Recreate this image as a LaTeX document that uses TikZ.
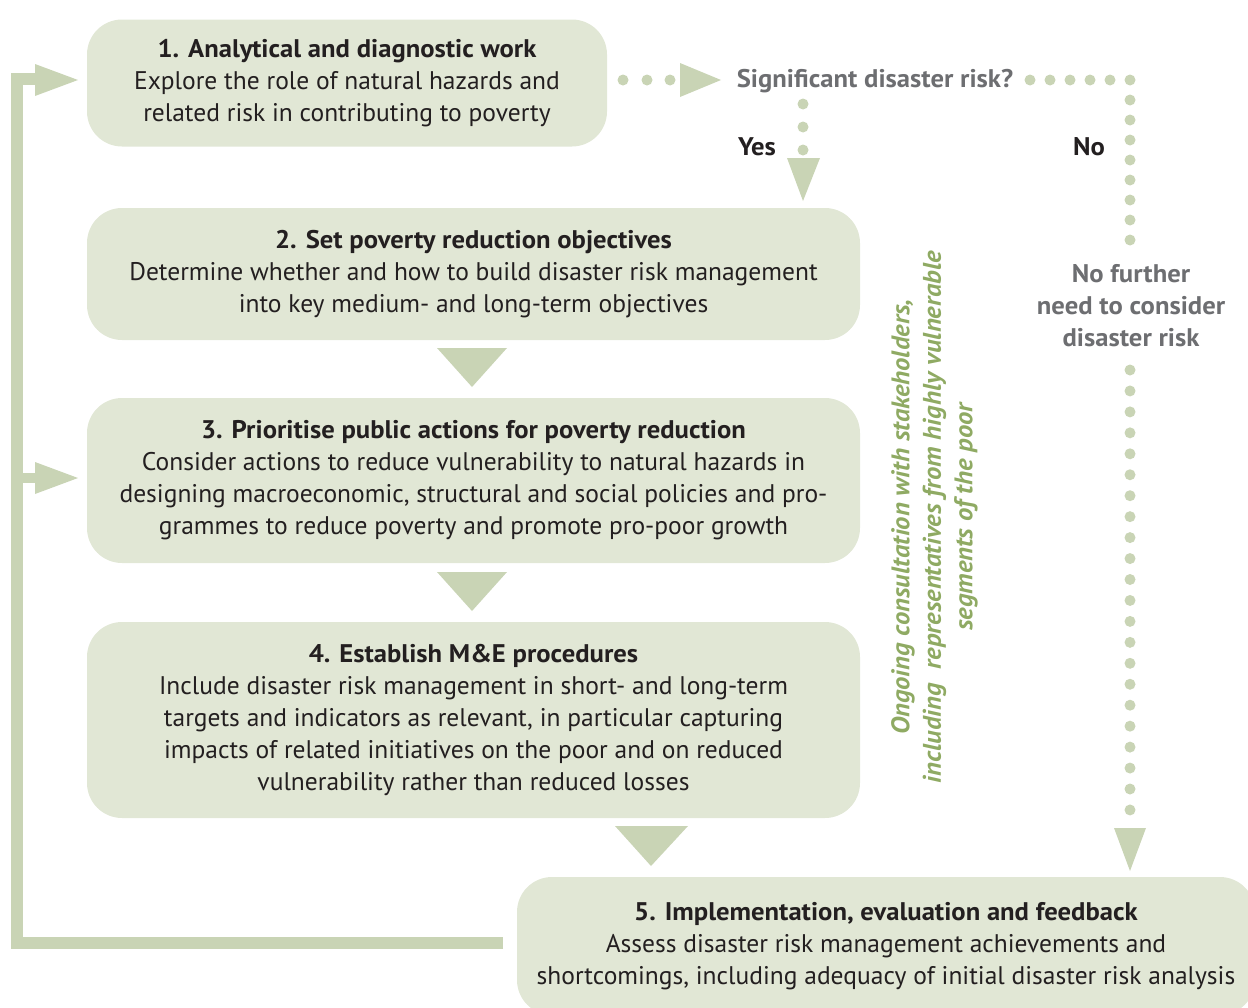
\documentclass[tikz,border=0pt]{standalone}
\usepackage{fontspec}
\setmainfont{PT Sans}[BoldFeatures={FakeStretch=1.045},BoldItalicFeatures={FakeStretch=1.045}]
\definecolor{boxfill}{HTML}{E1E7D5}
\definecolor{arr}{HTML}{C9D4B5}
\definecolor{grn}{HTML}{8FAA63}
\definecolor{gry}{HTML}{6D6E71}
\definecolor{ink}{HTML}{231F20}
\begin{document}
\begin{tikzpicture}[x=1pt,y=-1pt,
  box/.style={fill=boxfill, rounded corners=35pt, align=center, text=ink, inner sep=0pt,
              font=\fontsize{25.5}{32}\selectfont},
  headtri/.style={fill=arr},
  dotmark/.style={fill=arr},
  feed/.style={draw=arr, line width=12pt},
  lbl/.style={font=\fontsize{25.5}{32}\selectfont\bfseries, align=center, inner sep=0pt}]
\useasboundingbox (0,0) rectangle (1248,1007);
\clip (0,0) rectangle (1248,1007);

% boxes
\node[box, minimum width=520pt, minimum height=127pt] (b1) at (347,83)
  {\textbf{1. Analytical and diagnostic work}\\Explore the role of natural hazards and\\related risk in contributing to poverty};
\node[box, minimum width=773pt, minimum height=132pt] (b2) at (473.5,274)
  {\textbf{2. Set poverty reduction objectives}\\Determine whether and how to build disaster risk management\\into key medium- and long-term objectives};
\node[box, minimum width=773pt, minimum height=165pt] (b3) at (473.5,480.5)
  {\textbf{3. Prioritise public actions for poverty reduction}\\Consider actions to reduce vulnerability to natural hazards in\\designing macroeconomic, structural and social policies and pro-\\grammes to reduce poverty and promote pro-poor growth};
\node[box, minimum width=773pt, minimum height=196pt] (b4) at (473.5,720)
  {\textbf{4. Establish M\&E procedures}\\Include disaster risk management in short- and long-term\\targets and indicators as relevant, in particular capturing\\impacts of related initiatives on the poor and on reduced\\vulnerability rather than reduced losses};
\node[box, minimum width=738pt, minimum height=138pt] (b5) at (886,946)
  {\textbf{5. Implementation, evaluation and feedback}\\Assess disaster risk management achievements and\\shortcomings, including adequacy of initial disaster risk analysis};

% down triangles between boxes
\fill[headtri] (437,348) -- (507,348) -- (472,387) -- cycle;
\fill[headtri] (437,572) -- (507,572) -- (472,611) -- cycle;
\fill[headtri] (615,826) -- (688,826) -- (651,866) -- cycle;

% decision
\node[lbl, text=gry] (q) at (875,81) {Significant disaster risk?};
\foreach \x in {623,647,670} \fill[dotmark] (\x,80) circle (5.5);
\fill[headtri] (680,63) -- (721,80) -- (680,97) -- cycle;
\foreach \x in {1030,1050,...,1130} \fill[dotmark] (\x,80) circle (5.5);
\foreach \y in {100,120,...,240} \fill[dotmark] (1130,\y) circle (5.5);
\foreach \y in {104,127,150} \fill[dotmark] (803,\y) circle (5.5);
\fill[headtri] (787,158) -- (820,158) -- (803,201) -- cycle;
\node[lbl, text=ink] (yes) at (757,147) {Yes};
\node[lbl, text=ink] (no) at (1089,147) {No};
\node[lbl, text=gry] (nofurther) at (1131,306) {No further\\need to consider\\disaster risk};
\foreach \i in {0,...,21} \fill[dotmark] (1130,370+\i*20.95) circle (5.5);
\fill[headtri] (1114,828) -- (1146,828) -- (1130,871) -- cycle;

% consultation text
\node[rotate=90, align=center, text=grn, inner sep=0pt,
      font=\fontsize{25.5}{31.5}\selectfont\bfseries\itshape] (cons) at (934.5,517)
  {Ongoing consultation with stakeholders,\\including\ \ representatives from highly vulnerable\\segments of the poor};

% feedback loop
\coordinate (fbstart) at (503,943);
\coordinate (fbcorner) at (17,943);
\coordinate (fbtop) at (17,79);
\coordinate (fbmid) at (17,478);
\draw[feed] (fbstart) -- (fbcorner) -- (fbtop) -- (36,79);
\fill[headtri] (35,64) -- (78,80) -- (35,96) -- cycle;
\draw[draw=arr, line width=10pt] (fbmid) -- (36,478);
\fill[headtri] (35,462) -- (78,478) -- (35,494) -- cycle;
\end{tikzpicture}
\end{document}
